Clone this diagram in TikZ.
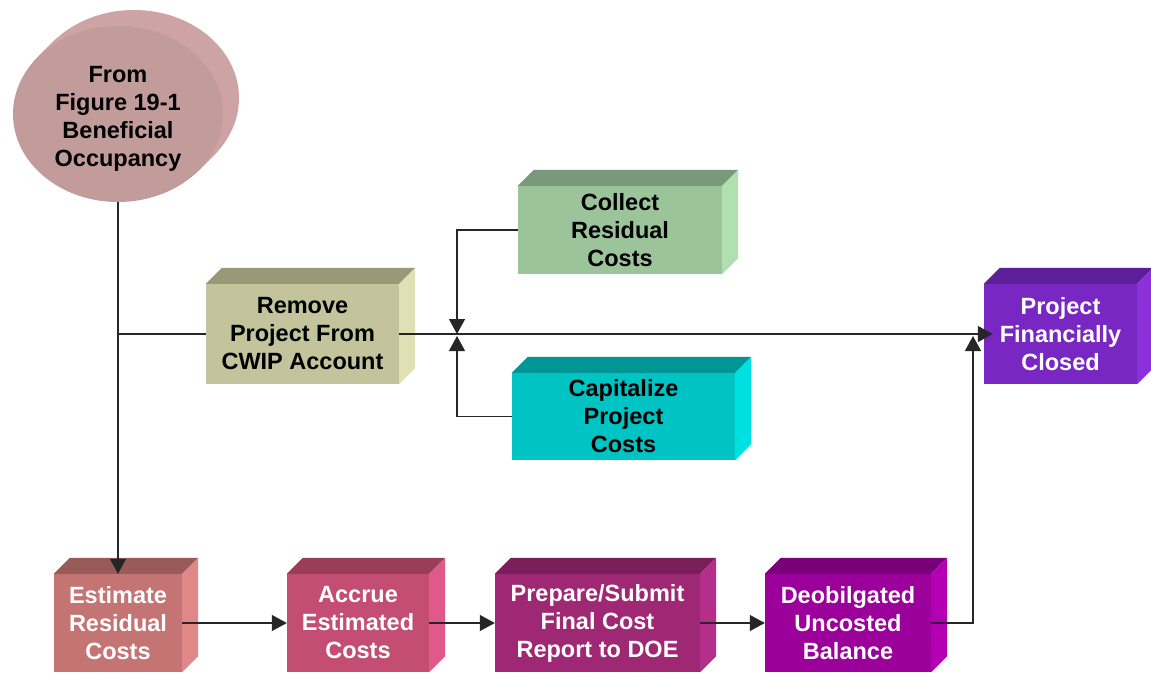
\documentclass[tikz,border=0pt]{standalone}
\usepackage{fontspec}
\setmainfont{Liberation Sans}
\usetikzlibrary{arrows.meta,shapes.geometric}

% front / top / side colours of the blocks
\definecolor{srcF}{HTML}{C29B9B}
\definecolor{srcS}{HTML}{CDA3A3}
\definecolor{remF}{HTML}{C3C49B}
\definecolor{remT}{HTML}{99997A}
\definecolor{remS}{HTML}{E1E0B5}
\definecolor{colF}{HTML}{9BC49B}
\definecolor{colT}{HTML}{7A987A}
\definecolor{colS}{HTML}{B0E0B0}
\definecolor{capF}{HTML}{00C3C3}
\definecolor{capT}{HTML}{009696}
\definecolor{capS}{HTML}{00E0E0}
\definecolor{cloF}{HTML}{7827C3}
\definecolor{cloT}{HTML}{5C1E99}
\definecolor{cloS}{HTML}{8B30DB}
\definecolor{estF}{HTML}{C47473}
\definecolor{estT}{HTML}{995B5A}
\definecolor{estS}{HTML}{E08787}
\definecolor{accF}{HTML}{C44E73}
\definecolor{accT}{HTML}{993D5A}
\definecolor{accS}{HTML}{E05A89}
\definecolor{repF}{HTML}{9E2873}
\definecolor{repT}{HTML}{7B1F5A}
\definecolor{repS}{HTML}{B52E8A}
\definecolor{deoF}{HTML}{9B009B}
\definecolor{deoT}{HTML}{790079}
\definecolor{deoS}{HTML}{B300B3}

\tikzset{
  face/.style={inner sep=0pt, align=center, font=\bfseries\fontsize{23.5}{28}\selectfont},
  wire/.style={line width=1.2pt, black!85},
  arrowed/.style={-{Triangle[length=15pt,width=16pt]}},
}

% top and right side of a block: node, top colour, side colour
\newcommand{\slab}[3]{%
  \fill[#2] (#1.north west) -- ++(16,-16) -- ([shift={(16,-16)}]#1.north east) -- (#1.north east) -- cycle;
  \fill[#3] (#1.north east) -- ++(16,-16) -- ([shift={(16,-16)}]#1.south east) -- (#1.south east) -- cycle;
}

\begin{document}
\begin{tikzpicture}[x=1pt, y=-1pt]
  \useasboundingbox[fill=white] (0,0) rectangle (1151,673);
  % Start disc
  \foreach \i in {16,...,1}
    \fill[srcS] (118+\i,114-\i) ellipse (105 and 88);
  \node[face, ellipse, fill=srcF, minimum width=210pt, minimum height=176pt] (src) at (118,114)
    {\rule{0pt}{25pt}From\\Figure 19-1\\Beneficial\\Occupancy};

  % Middle row
  \node[face, fill=remF, minimum width=193pt, minimum height=100pt] (remove) at (302.5,334)
    {Remove\\Project From\\CWIP Account};
  \slab{remove}{remT}{remS}
  \node[face, fill=colF, minimum width=204pt, minimum height=88pt] (collect) at (620,230)
    {Collect\\Residual\\Costs};
  \slab{collect}{colT}{colS}
  \node[face, fill=capF, minimum width=223pt, minimum height=87pt] (capital) at (623.5,416.5)
    {Capitalize\\Project\\Costs};
  \slab{capital}{capT}{capS}
  \node[face, text=white, fill=cloF, minimum width=153pt, minimum height=100pt] (closed) at (1060.5,334)
    {Project\\Financially\\Closed};
  \slab{closed}{cloT}{cloS}

  % Bottom row
  \node[face, text=white, fill=estF, minimum width=128pt, minimum height=98pt] (estimate) at (118,623)
    {Estimate\\Residual\\Costs};
  \slab{estimate}{estT}{estS}
  \node[face, text=white, fill=accF, minimum width=142pt, minimum height=98pt] (accrue) at (358,623)
    {Accrue\\Estimated\\Costs};
  \slab{accrue}{accT}{accS}
  \node[face, text=white, fill=repF, minimum width=205pt, minimum height=98pt] (report) at (597.5,623)
    {Prepare/Submit\\Final Cost\\Report to DOE};
  \slab{report}{repT}{repS}
  \node[face, text=white, fill=deoF, minimum width=166pt, minimum height=98pt] (deob) at (848,623)
    {Deobilgated\\Uncosted\\Balance};
  \slab{deob}{deoT}{deoS}

  % Connectors
  \coordinate (meet) at (457,334);
  \coordinate (rise) at (973,336);
  \draw[wire, arrowed] (src.south) -- (estimate.north);
  \draw[wire] (src.south |- remove.west) -- (remove.west);
  \draw[wire, arrowed, shorten >=-9pt] (remove.east) -- (closed.west);
  \draw[wire, arrowed] (collect.west) -| (meet);
  \draw[wire, arrowed] (capital.west) -| ([yshift=-2pt]meet);
  \draw[wire, arrowed] (estimate.east) -- (accrue.west);
  \draw[wire, arrowed] (accrue.east) -- (report.west);
  \draw[wire, arrowed] (report.east) -- (deob.west);
  \draw[wire, arrowed] (deob.east) -| (rise);
\end{tikzpicture}
\end{document}
